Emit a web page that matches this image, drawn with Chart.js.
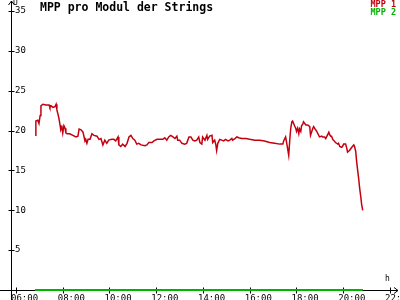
<!DOCTYPE html>
<html>
<head>
<meta charset="utf-8">
<script src="https://cdn.jsdelivr.net/npm/chart.js@4.4.1/dist/chart.umd.min.js"></script>
<style>
  html, body { margin: 0; padding: 0; background: #fff; }
  #wrap { width: 400px; height: 300px; }
</style>
</head>
<body>
<div id="wrap"><canvas id="chart" width="400" height="300"></canvas></div>
<script>
var chartTitle = "MPP pro Modul der Strings";
var seriesNames = ["MPP 1", "MPP 2"];
var seriesColors = ["#c40010", "#00b400"];

var xTickHours = [6, 8, 10, 12, 14, 16, 18, 20, 22];
var xTickLabels = ["06:00", "08:00", "10:00", "12:00", "14:00", "16:00", "18:00", "20:00", "22:00"];
var yTicks = [5, 10, 15, 20, 25, 30, 35];

var mpp1Times = [
    "06:49","06:51","06:56","06:59","07:02","07:04","07:09","07:17","07:25","07:27",
    "07:30","07:35","07:40","07:43","07:45","07:50","07:53","07:55","07:58","08:00",
    "08:03","08:06","08:08","08:11","08:18","08:26","08:34","08:39","08:42","08:47",
    "08:52","08:57","08:59","09:02","09:05","09:10","09:15","09:20","09:28","09:33",
    "09:38","09:43","09:48","09:53","09:58","10:06","10:11","10:16","10:22","10:24",
    "10:29","10:34","10:40","10:45","10:50","10:55","11:00","11:05","11:10","11:15",
    "11:21","11:31","11:36","11:41","11:49","11:54","12:02","12:09","12:17","12:22",
    "12:27","12:32","12:37","12:43","12:48","12:53","12:55","13:00","13:06","13:13",
    "13:18","13:24","13:29","13:34","13:39","13:44","13:49","13:52","13:57","13:59",
    "14:05","14:10","14:12","14:17","14:23","14:25","14:30","14:33","14:35","14:38",
    "14:43","14:48","14:53","14:58","15:04","15:09","15:14","15:16","15:22","15:27",
    "15:32","15:39","15:50","16:00","16:13","16:26","16:38","16:51","17:04","17:17",
    "17:25","17:27","17:32","17:35","17:37","17:40","17:43","17:45","17:48","17:50",
    "17:55","17:58","18:00","18:03","18:06","18:08","18:11","18:13","18:16","18:18",
    "18:24","18:29","18:34","18:36","18:42","18:44","18:49","18:52","18:54","18:59",
    "19:05","19:07","19:12","19:15","19:20","19:23","19:25","19:28","19:30","19:33",
    "19:35","19:40","19:46","19:48","19:51","19:56","19:58","20:01","20:06","20:09",
    "20:11","20:16","20:22","20:27","20:29","20:32","20:34","20:37","20:40","20:42",
    "20:45","20:47","20:50"
];
var mpp1Values = [
    19.4, 21.2, 21.3, 20.9, 21.9, 23.1, 23.3, 23.2, 23.2, 22.9,
    23.1, 22.9, 23.0, 23.3, 22.6, 21.6, 20.7, 20.1, 20.4, 19.7,
    20.6, 20.3, 19.7, 19.6, 19.6, 19.4, 19.2, 19.3, 20.2, 20.1,
    19.8, 18.7, 18.9, 18.4, 18.9, 18.9, 19.6, 19.4, 19.3, 18.9,
    19.0, 18.2, 18.8, 18.4, 18.8, 18.9, 18.9, 18.7, 19.2, 18.2,
    18.0, 18.3, 18.0, 18.4, 19.2, 19.4, 19.0, 18.8, 18.3, 18.4,
    18.2, 18.1, 18.2, 18.5, 18.5, 18.7, 18.9, 18.9, 18.9, 19.1,
    18.8, 19.2, 19.4, 19.2, 19.0, 19.3, 18.8, 18.8, 18.4, 18.3,
    18.4, 19.2, 19.2, 18.8, 18.7, 18.8, 19.2, 18.5, 18.3, 19.2,
    18.8, 19.4, 18.9, 19.3, 19.4, 18.5, 18.8, 18.2, 17.5, 18.4,
    18.9, 18.8, 18.7, 18.9, 18.7, 18.8, 19.0, 18.8, 19.0, 19.2,
    19.1, 19.0, 19.0, 18.9, 18.8, 18.8, 18.7, 18.5, 18.4, 18.3,
    18.3, 18.7, 19.2, 18.4, 17.8, 16.9, 19.0, 20.2, 21.1, 21.2,
    20.6, 20.3, 19.9, 20.3, 19.6, 20.2, 19.9, 20.6, 20.8, 21.1,
    20.7, 20.7, 20.5, 19.4, 20.3, 20.5, 20.1, 19.9, 19.7, 19.2,
    19.3, 19.2, 19.2, 19.0, 19.5, 19.8, 19.5, 19.3, 19.3, 18.9,
    18.8, 18.5, 18.3, 18.4, 18.0, 17.9, 18.0, 18.3, 18.3, 17.8,
    17.3, 17.5, 17.9, 18.2, 18.0, 17.4, 16.3, 15.0, 13.8, 12.8,
    11.7, 10.8, 10.0
];

var mpp2Times = ["06:49", "20:50"];
var mpp2Values = [0, 0];

function toHours(t) {
    var p = t.split(':');
    return parseInt(p[0], 10) + parseInt(p[1], 10) / 60;
}

function toPoints(times, values) {
    return times.map(function (t, i) {
        return { x: toHours(t), y: values[i] };
    });
}

// axes with arrows, crossing tick marks, title and legend
var decorPlugin = {
    id: 'decor',
    afterDatasetsDraw: function (chart) {
        var ctx = chart.ctx;
        var xs = chart.scales.x;
        var ys = chart.scales.y;
        var x0 = chart.chartArea.left + 0.5;
        var y0 = chart.chartArea.bottom + 0.5;
        ctx.save();
        ctx.strokeStyle = '#000';
        ctx.lineWidth = 1;
        ctx.beginPath();
        // y axis + arrow
        ctx.moveTo(x0, 300);
        ctx.lineTo(x0, 1);
        ctx.moveTo(x0 - 3, 5);
        ctx.lineTo(x0, 1);
        ctx.lineTo(x0 + 3, 5);
        // x axis + arrow
        ctx.moveTo(0, y0);
        ctx.lineTo(398, y0);
        ctx.moveTo(394, y0 - 3);
        ctx.lineTo(398, y0);
        ctx.lineTo(394, y0 + 3);
        yTicks.forEach(function (v) {
            var py = Math.round(ys.getPixelForValue(v)) + 0.5;
            ctx.moveTo(x0 - 3, py);
            ctx.lineTo(x0 + 3, py);
        });
        xTickHours.forEach(function (v) {
            var px = Math.round(xs.getPixelForValue(v)) + 0.5;
            ctx.moveTo(px, y0 - 3);
            ctx.lineTo(px, y0 + 3);
        });
        ctx.stroke();

        // redraw MPP 2 over the axis line
        var meta = chart.getDatasetMeta(1);
        ctx.strokeStyle = seriesColors[1];
        ctx.lineWidth = 2;
        ctx.beginPath();
        meta.data.forEach(function (pt, i) {
            if (i === 0) ctx.moveTo(pt.x, pt.y); else ctx.lineTo(pt.x, pt.y);
        });
        ctx.stroke();

        ctx.fillStyle = '#000';
        ctx.textBaseline = 'top';
        ctx.font = '8px "DejaVu Sans Mono"';
        ctx.textAlign = 'left';
        ctx.fillText('U', 13, -1);
        ctx.fillText('h', 385, 275);

        ctx.font = 'bold 11.5px "DejaVu Sans Mono"';
        ctx.fillText(chartTitle, 40, 2);

        ctx.font = 'bold 8.5px "DejaVu Sans Mono"';
        ctx.textAlign = 'right';
        seriesNames.forEach(function (name, i) {
            ctx.fillStyle = seriesColors[i];
            ctx.fillText(name, 396, 1 + i * 8);
        });
        ctx.restore();
    }
};

var tickFont = { family: 'DejaVu Sans Mono', size: 9 };

new Chart(document.getElementById('chart'), {
    type: 'line',
    data: {
        datasets: [{
            label: seriesNames[0],
            data: toPoints(mpp1Times, mpp1Values),
            borderColor: seriesColors[0],
            borderWidth: 1.5,
            pointRadius: 0,
            tension: 0,
            fill: false
        }, {
            label: seriesNames[1],
            data: toPoints(mpp2Times, mpp2Values),
            borderColor: seriesColors[1],
            borderWidth: 2,
            pointRadius: 0,
            tension: 0,
            fill: false
        }]
    },
    options: {
        responsive: false,
        animation: false,
        layout: { padding: { top: 11, right: 10, left: 0, bottom: 0 } },
        plugins: {
            legend: { display: false },
            title: { display: false },
            tooltip: { enabled: false }
        },
        scales: {
            x: {
                type: 'linear',
                min: 6 - 5 / 23.4,
                max: 22,
                grid: { display: false, drawTicks: false },
                border: { display: false },
                afterBuildTicks: function (scale) {
                    scale.ticks = xTickHours.map(function (v) { return { value: v }; });
                },
                afterFit: function (scale) {
                    scale.height = 10;
                    scale.paddingLeft = 0;
                    scale.paddingRight = 0;
                },
                ticks: {
                    autoSkip: false,
                    maxRotation: 0,
                    align: 'start',
                    labelOffset: -5,
                    padding: 3,
                    color: '#000',
                    font: tickFont,
                    callback: function (v) {
                        var i = xTickHours.indexOf(v);
                        return i >= 0 ? xTickLabels[i] : '';
                    }
                }
            },
            y: {
                min: 0,
                max: 35,
                grid: { display: false, drawTicks: false },
                border: { display: false },
                afterBuildTicks: function (scale) {
                    scale.ticks = yTicks.map(function (v) { return { value: v }; });
                },
                afterFit: function (scale) {
                    scale.width = 11;
                    scale.paddingTop = 0;
                    scale.paddingBottom = 0;
                },
                ticks: {
                    mirror: true,
                    padding: 4,
                    color: '#000',
                    font: tickFont
                }
            }
        }
    },
    plugins: [decorPlugin]
});
</script>
</body>
</html>
